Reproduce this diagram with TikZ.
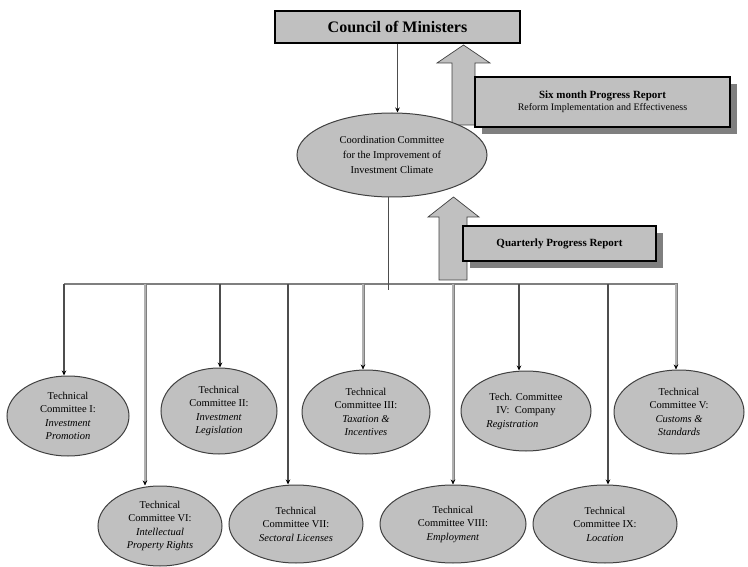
\documentclass[tikz,border=0pt]{standalone}
\usepackage{fontspec}
\setmainfont{Liberation Serif}
\usetikzlibrary{shapes.geometric,arrows.meta,shadows}
\definecolor{panel}{HTML}{C0C0C0}
\definecolor{shade}{HTML}{7F7F7F}
\definecolor{wire}{HTML}{4D4D4D}
\definecolor{pale}{HTML}{B0B0B0}
\definecolor{rim}{HTML}{404040}

\begin{document}
\begin{tikzpicture}[x=1pt,y=-1pt,
  oval/.style={ellipse, draw=rim, fill=panel, line width=1pt, inner sep=0pt,
    align=center, font=\fontsize{10.5}{13.5}\selectfont},
  reportbox/.style={rectangle, draw=black, fill=panel, line width=1.3pt, inner sep=0pt,
    align=center, drop shadow={shadow xshift=7pt, shadow yshift=-7pt, fill=shade, opacity=1}},
  bigarrow/.style={fill=panel, draw=rim, line width=0.7pt, line join=miter},
  tip/.style={-{Stealth[length=5pt,width=4.5pt,color=black]}},
  darkline/.style={tip, draw=wire, line width=1.1pt},
  paleline/.style={tip, draw=shade, line width=0.5pt, double=pale, double distance=2pt},
  bus/.style={draw=shade, line width=1.3pt}]

\useasboundingbox (0,0) rectangle (748,567);

% upward report arrows (drawn first so boxes and ellipse sit over them)
\draw[bigarrow] (452,125) -- (452,63) -- (437,63) -- (463.5,45) -- (490,63)
  -- (475,63) -- (475,125) -- cycle;
\draw[bigarrow] (439,280) -- (439,217) -- (428,217) -- (453.5,197) -- (479,217)
  -- (467,217) -- (467,280) -- cycle;

% top of the hierarchy
\node[rectangle, draw=black, fill=panel, line width=1.3pt, minimum width=245pt,
  minimum height=32pt, inner sep=0pt, font=\fontsize{16}{18}\selectfont\bfseries]
  (council) at (397.5,27) {Council of Ministers};

\node[reportbox, minimum width=255pt, minimum height=50pt] (sixmonth) at (602.5,102)
  {{\fontsize{11}{16}\selectfont\bfseries Six month Progress Report}\\
   {\fontsize{10}{16}\selectfont Reform Implementation and Effectiveness}};

\node[reportbox, minimum width=193pt, minimum height=35pt,
  font=\fontsize{11}{14}\selectfont\bfseries] (quarterly) at (559.5,243.5)
  {Quarterly Progress Report};

\node[oval, minimum width=190pt, minimum height=84pt,
  font=\fontsize{10.5}{15}\selectfont] (coord) at (392,155)
  {Coordination Committee\\for the Improvement of\\Investment Climate};

% technical committees, upper row
\node[oval, minimum width=122pt, minimum height=80pt] (tcI) at (68,416)
  {Technical\\Committee I:\\\textit{Investment}\\\textit{Promotion}};
\node[oval, minimum width=116pt, minimum height=86pt] (tcII) at (219,411)
  {Technical\\Committee II:\\\textit{Investment}\\\textit{Legislation}};
\node[oval, minimum width=128pt, minimum height=84pt] (tcIII) at (366,412)
  {Technical\\Committee III:\\\textit{Taxation \&}\\\textit{Incentives}};
\node[oval, minimum width=130pt, minimum height=80pt] (tcIV) at (526,411)
  {Tech. Committee\\IV:\ \ Company\\\textit{Registration}\hspace*{2.6em}};
\node[oval, minimum width=130pt, minimum height=84pt] (tcV) at (679,412)
  {Technical\\Committee V:\\\textit{Customs \&}\\\textit{Standards}};

% technical committees, lower row
\node[oval, minimum width=124pt, minimum height=80pt] (tcVI) at (160,526)
  {Technical\\Committee VI:\\\textit{Intellectual}\\\textit{Property Rights}};
\node[oval, minimum width=134pt, minimum height=78pt] (tcVII) at (296,524)
  {Technical\\Committee VII:\\\textit{Sectoral Licenses}};
\node[oval, minimum width=146pt, minimum height=78pt] (tcVIII) at (453,524)
  {Technical\\Committee VIII:\\\textit{Employment}};
\node[oval, minimum width=144pt, minimum height=78pt] (tcIX) at (605,524)
  {Technical\\Committee IX:\\\textit{Location}};

% reporting line from the council
\draw[tip, draw=wire, line width=1pt] (council.south) -- (council.south |- coord.north);

% distribution bus and its feed from the coordination committee
\coordinate (busL) at (64,284);
\coordinate (busR) at (678,284);
\coordinate (feed) at (388,290);
\draw[bus] (busL) -- (busR);
\draw[draw=wire, line width=1pt] (coord.south -| feed) -- (feed);

% drop points along the bus
\coordinate (d1) at (64,284);
\coordinate (d6) at (145,284);
\coordinate (d2) at (220,284);
\coordinate (d7) at (288,284);
\coordinate (d3) at (363,284);
\coordinate (d8) at (453,284);
\coordinate (d4) at (519,284);
\coordinate (d9) at (608,284);
\coordinate (d5) at (676,284);

\draw[darkline] (d1) -- (d1 |- tcI.north);
\draw[darkline] (d2) -- (d2 |- tcII.north);
\draw[paleline] (d3) -- (d3 |- tcIII.north);
\draw[darkline] (d4) -- (d4 |- tcIV.north);
\draw[paleline] (d5) -- (d5 |- tcV.north);
\draw[paleline] (d6) -- (d6 |- tcVI.north);
\draw[darkline] (d7) -- (d7 |- tcVII.north);
\draw[paleline] (d8) -- (d8 |- tcVIII.north);
\draw[darkline] (d9) -- (d9 |- tcIX.north);

\end{tikzpicture}
\end{document}
